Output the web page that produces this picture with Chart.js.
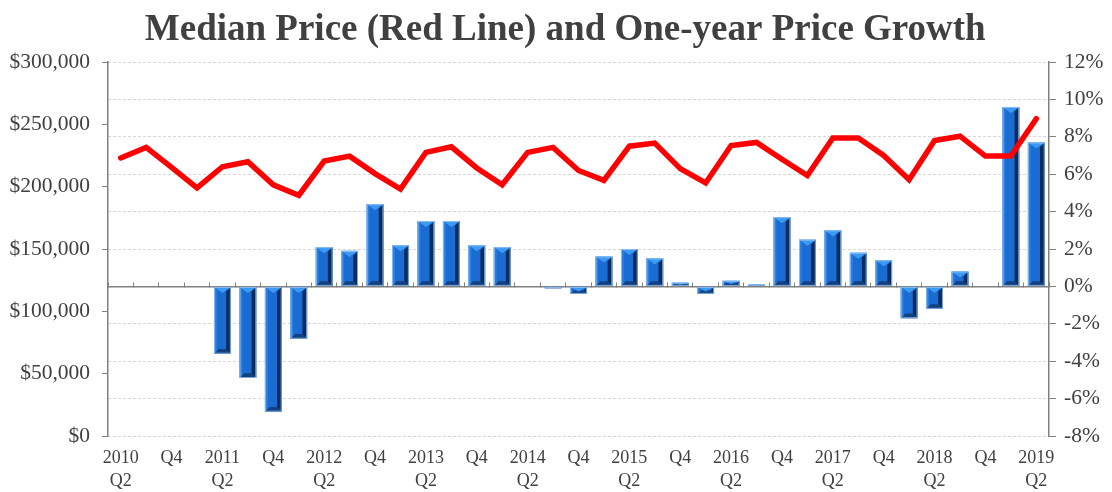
<!DOCTYPE html>
<html>
<head>
<meta charset="utf-8">
<title>Median Price and One-year Price Growth</title>
<script src="https://cdn.jsdelivr.net/npm/chart.js@4.4.1/dist/chart.umd.min.js"></script>
<style>
  html, body { margin: 0; padding: 0; background: #fff; }
  #priceChart { display: block; }
</style>
</head>
<body>
<canvas id="priceChart" width="1112" height="492"></canvas>
<script>
// ===================================
// Data
// ===================================

const quarters = [
    '2010 Q2', '2010 Q3', '2010 Q4', '2011 Q1', '2011 Q2', '2011 Q3', '2011 Q4', '2012 Q1',
    '2012 Q2', '2012 Q3', '2012 Q4', '2013 Q1', '2013 Q2', '2013 Q3', '2013 Q4', '2014 Q1',
    '2014 Q2', '2014 Q3', '2014 Q4', '2015 Q1', '2015 Q2', '2015 Q3', '2015 Q4', '2016 Q1',
    '2016 Q2', '2016 Q3', '2016 Q4', '2017 Q1', '2017 Q2', '2017 Q3', '2017 Q4', '2018 Q1',
    '2018 Q2', '2018 Q3', '2018 Q4', '2019 Q1', '2019 Q2'
];

// red line, left axis ($)
const medianPrice = [
    223000, 231500, 215500, 199000, 216000, 220000, 201500, 193000,
    220500, 224500, 210500, 198000, 227500, 232000, 215000, 201500,
    227500, 231500, 213000, 205000, 232500, 235000, 214500, 203000,
    233000, 235500, 222000, 209000, 239000, 239000, 225000, 205500,
    237000, 240500, 224500, 224500, 254500
];

// bars, right axis (%)
const priceGrowth = [
    null, null, null, null, -3.6, -4.9, -6.7, -2.8,
    2.1, 1.9, 4.4, 2.2, 3.5, 3.5, 2.2, 2.1,
    0, -0.1, -0.4, 1.6, 2.0, 1.5, 0.2, -0.4,
    0.3, 0.1, 3.7, 2.5, 3.0, 1.8, 1.4, -1.7,
    -1.2, 0.8, 0, 9.6, 7.7
];

const priceTicks = { min: 0, max: 300000, step: 50000 };
const growthTicks = { min: -8, max: 12, step: 2 };

// only Q2 and Q4 get a label, Q2 also shows the year
function quarterLabel(q) {
    const parts = q.split(' ');
    if (parts[1] === 'Q2') return [parts[0], 'Q2'];
    if (parts[1] === 'Q4') return ['Q4'];
    return '';
}

// ===================================
// Bevelled bar look
// ===================================

const bevelBars = {
    id: 'bevelBars',
    afterDatasetDraw(chart, args) {
        if (args.index !== 1) return;
        const ctx = chart.ctx;
        args.meta.data.forEach(bar => {
            const p = bar.getProps(['x', 'y', 'base', 'width'], true);
            if (p.y == null || isNaN(p.y)) return;
            const l = p.x - p.width / 2;
            const r = p.x + p.width / 2;
            const top = Math.min(p.y, p.base);
            const bot = Math.max(p.y, p.base);
            const h = bot - top;
            if (h < 1) return;
            const e = Math.min(p.width * 0.28, h / 2);

            ctx.save();
            // right side, dark
            ctx.fillStyle = '#0b2c5e';
            ctx.beginPath();
            ctx.moveTo(r, top); ctx.lineTo(r, bot); ctx.lineTo(r - e, bot - e); ctx.lineTo(r - e, top + e);
            ctx.closePath(); ctx.fill();
            // bottom, dark
            ctx.fillStyle = '#13407f';
            ctx.beginPath();
            ctx.moveTo(l, bot); ctx.lineTo(r, bot); ctx.lineTo(r - e, bot - e); ctx.lineTo(l + e, bot - e);
            ctx.closePath(); ctx.fill();
            // left side, a bit lighter
            ctx.fillStyle = '#2a80e2';
            ctx.beginPath();
            ctx.moveTo(l, top); ctx.lineTo(l, bot); ctx.lineTo(l + e * 0.6, bot - e * 0.6); ctx.lineTo(l + e * 0.6, top + e * 0.6);
            ctx.closePath(); ctx.fill();
            // top chevron, light
            ctx.fillStyle = '#3d9af2';
            ctx.beginPath();
            ctx.moveTo(l, top); ctx.lineTo(r, top); ctx.lineTo(p.x, top + e * 1.3);
            ctx.closePath(); ctx.fill();
            // thin light outline
            ctx.strokeStyle = 'rgba(160, 200, 245, 0.8)';
            ctx.lineWidth = 1;
            ctx.strokeRect(l + 0.5, top + 0.5, p.width - 1, h - 1);
            ctx.restore();
        });
    }
};

// ===================================
// Chart
// ===================================

Chart.defaults.font.family = "'Liberation Serif', 'Times New Roman', serif";
Chart.defaults.color = '#404040';

const axisGray = '#808080';

const ctx = document.getElementById('priceChart').getContext('2d');
const priceChart = new Chart(ctx, {
    type: 'bar',
    data: {
        labels: quarters,
        datasets: [{
            type: 'line',
            label: 'Median Price',
            data: medianPrice,
            yAxisID: 'y',
            xAxisID: 'x',
            borderColor: '#ff0000',
            borderWidth: 5.5,
            pointRadius: 0,
            tension: 0,
            borderJoinStyle: 'miter',
            borderCapStyle: 'round',
            order: 0
        }, {
            type: 'bar',
            label: 'One-year Price Growth',
            data: priceGrowth,
            yAxisID: 'y1',
            xAxisID: 'x',
            backgroundColor: '#1b6cd2',
            borderWidth: 0,
            barPercentage: 0.66,
            categoryPercentage: 1,
            order: 1
        }]
    },
    options: {
        responsive: false,
        animation: false,
        devicePixelRatio: 1,
        layout: { padding: 0 },
        plugins: {
            legend: { display: false },
            tooltip: { enabled: false },
            title: {
                display: true,
                // two leading spaces push the centred title a little right, like the reference
                text: '  Median Price (Red Line) and One-year Price Growth',
                font: { size: 37, weight: 'bold' },
                color: '#404040',
                padding: { top: 8.5, bottom: 9.1 }
            }
        },
        scales: {
            x: {
                position: 'bottom',
                offset: true,
                grid: { display: false },
                border: { display: false },
                ticks: {
                    autoSkip: false,
                    maxRotation: 0,
                    padding: 3,
                    font: { size: 18, lineHeight: 1.28 },
                    callback: function(value, index) {
                        return quarterLabel(quarters[index]);
                    }
                },
                afterFit: function(scale) { scale.height = 56; }
            },
            xZero: {
                type: 'category',
                position: { y1: 0 },
                offset: true,
                grid: {
                    offset: true,
                    drawOnChartArea: false,
                    color: axisGray,
                    tickLength: -5
                },
                border: { color: axisGray, width: 1.5 },
                ticks: { display: false }
            },
            y: {
                position: 'left',
                min: priceTicks.min,
                max: priceTicks.max,
                ticks: {
                    stepSize: priceTicks.step,
                    padding: 12,
                    font: { size: 21.5 },
                    callback: function(value) {
                        return '$' + value.toLocaleString('en-US');
                    }
                },
                grid: { drawOnChartArea: false, color: axisGray, tickLength: 6 },
                border: { color: axisGray, width: 1.5 },
                afterFit: function(scale) { scale.width = 108; }
            },
            y1: {
                position: 'right',
                min: growthTicks.min,
                max: growthTicks.max,
                ticks: {
                    stepSize: growthTicks.step,
                    padding: 8,
                    font: { size: 21.5 },
                    callback: function(value) {
                        return value + '%';
                    }
                },
                grid: {
                    color: function(c) {
                        return c.tick && c.tick.value === 0 ? 'rgba(0,0,0,0)' : '#d6d6d6';
                    },
                    tickColor: axisGray,
                    tickLength: 7
                },
                border: { color: axisGray, width: 1.5, dash: [3, 2] },
                afterFit: function(scale) { scale.width = 63; }
            }
        }
    },
    plugins: [bevelBars]
});
</script>
</body>
</html>
